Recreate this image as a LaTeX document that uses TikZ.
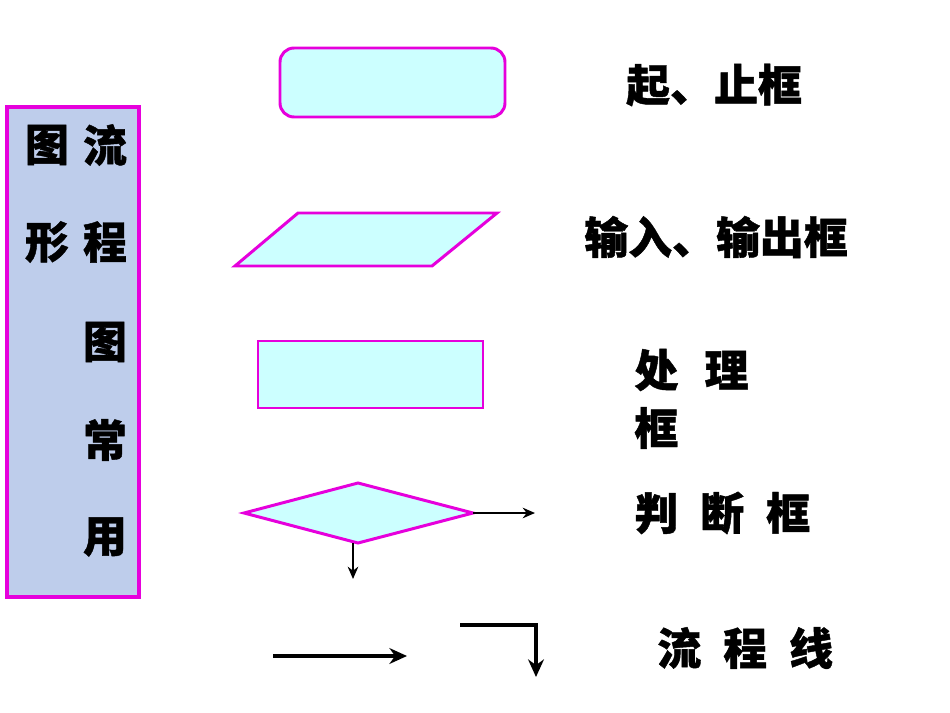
\documentclass[tikz,border=0pt]{standalone}
\usepackage{fontspec}
\newfontfamily\cjk[FakeBold=1]{Noto Sans CJK SC}
\usetikzlibrary{arrows.meta}
\definecolor{mag}{RGB}{230,0,220}
\definecolor{cy}{RGB}{204,255,255}
\definecolor{lav}{RGB}{190,205,235}
\tikzset{shp/.style={draw=mag,line width=1.7pt,fill=cy},
 lbl/.style={font=\cjk\bfseries\fontsize{25}{28}\selectfont,inner sep=0pt},
 flowarr/.style={draw=black,line width=2.8pt,-{Stealth[length=10pt,width=9pt]}},
 smallarr/.style={draw=black,line width=1.3pt,-{Stealth[length=7pt,width=6pt]}}}
\begin{document}
\begin{tikzpicture}[x=0.02cm,y=-0.02cm]
\useasboundingbox (0,0) rectangle (950,713);
\fill[white] (0,0) rectangle (950,713);
\node[draw=mag,line width=2.5pt,fill=lav,inner sep=0pt,minimum width=2.64cm,minimum height=9.8cm] (side) at (73,352) {};
\node[lbl] (c1) at (105,145) {流};
\node[lbl] (c2) at (105,242) {程};
\node[lbl] (c3) at (105,342) {图};
\node[lbl] (c4) at (105,440) {常};
\node[lbl] (c5) at (105,537) {用};
\node[lbl] (c6) at (47,145) {图};
\node[lbl] (c7) at (47,242) {形};
\draw[shp,rounded corners=8pt] (280,48) rectangle (505,117);
\draw[shp] (235,266) -- (298,213) -- (497,213) -- (432,266) -- cycle;
\draw[shp] (258,341) rectangle (483,408);
\draw[shp] (244,513) -- (358,483) -- (473,513) -- (358,543) -- cycle;
\coordinate (dr) at (473,513); \coordinate (dre) at (535,513);
\coordinate (db) at (353,543); \coordinate (dbe) at (353,579);
\draw[smallarr] (dr) -- (dre);
\draw[smallarr] (db) -- (dbe);
\coordinate (a1) at (273,656); \coordinate (a2) at (407,656);
\draw[flowarr] (a1) -- (a2);
\coordinate (b1) at (460,625); \coordinate (b2) at (536,625); \coordinate (b3) at (536,677);
\draw[flowarr] (b1) -- (b2) -- (b3);
\node[lbl] (t1) at (714,85) {起、止框};
\node[lbl] (t2) at (716,237) {输入、输出框};
\node[lbl,anchor=west] (t3) at (634,370) {处\hspace{0.6em}理};
\node[lbl,anchor=west] (t4) at (634,428) {框};
\node[lbl,anchor=west] (t5) at (634,513) {判\hspace{0.5em}断\hspace{0.5em}框};
\node[lbl,anchor=west] (t6) at (657,648) {流\hspace{0.5em}程\hspace{0.5em}线};
\end{tikzpicture}
\end{document}
